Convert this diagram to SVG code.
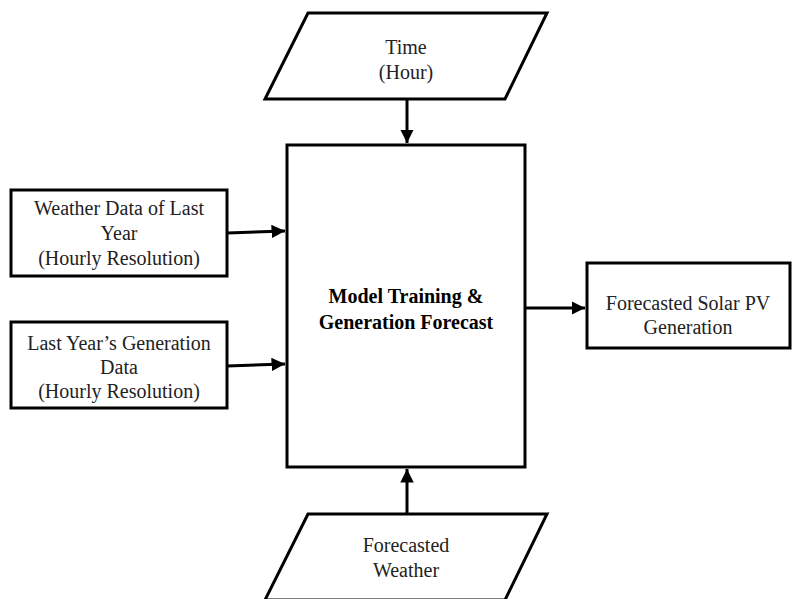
<svg xmlns="http://www.w3.org/2000/svg" width="792" height="599" viewBox="0 0 792 599">
<style>
.s{fill:#fff;stroke:#000;stroke-width:3;stroke-linejoin:miter}
.t{font-family:"Liberation Serif","Times New Roman",serif;font-size:20px;fill:#222;text-anchor:middle}
.b{font-weight:bold;fill:#000}
.c{stroke:#000;stroke-width:3;fill:none}
</style>
<defs>
<marker id="a" viewBox="0 0 10 10" refX="10" refY="5" markerWidth="4.5" markerHeight="4.5" orient="auto" markerUnits="strokeWidth">
<path d="M0,0 L10,5 L0,10 z" fill="#000"/>
</marker>
</defs>
<rect width="792" height="599" fill="#fff"/>
<g id="connectors">
<line class="c" x1="407" y1="99" x2="407" y2="143" marker-end="url(#a)"/>
<line class="c" x1="407" y1="514" x2="407" y2="469" marker-end="url(#a)"/>
<line class="c" x1="227" y1="233" x2="285" y2="231" marker-end="url(#a)"/>
<line class="c" x1="227" y1="366" x2="285" y2="364" marker-end="url(#a)"/>
<line class="c" x1="525" y1="308" x2="585" y2="308" marker-end="url(#a)"/>
</g>
<g id="time">
<polygon class="s" points="308,13 547,13 505,99 265,99"/>
<text class="t" x="406" y="54">Time</text>
<text class="t" x="406" y="79">(Hour)</text>
</g>
<g id="model">
<rect class="s" x="287" y="145" width="238" height="322"/>
<text class="t b" x="406" y="303">Model Training &amp;</text>
<text class="t b" x="406" y="329">Generation Forecast</text>
</g>
<g id="weather">
<rect class="s" x="11" y="190" width="216" height="86"/>
<text class="t" x="119" y="215">Weather Data of Last</text>
<text class="t" x="119" y="240">Year</text>
<text class="t" x="119" y="265">(Hourly Resolution)</text>
</g>
<g id="generation">
<rect class="s" x="11" y="322" width="216" height="86"/>
<text class="t" x="119" y="350">Last Year’s Generation</text>
<text class="t" x="119" y="374">Data</text>
<text class="t" x="119" y="398">(Hourly Resolution)</text>
</g>
<g id="output">
<rect class="s" x="587" y="263" width="203" height="85"/>
<text class="t" x="688" y="310">Forecasted Solar PV</text>
<text class="t" x="688" y="334">Generation</text>
</g>
<g id="forecast">
<polygon class="s" points="308,514 547,514 505,600 265,600"/>
<text class="t" x="406" y="552">Forecasted</text>
<text class="t" x="406" y="577">Weather</text>
</g>
</svg>
